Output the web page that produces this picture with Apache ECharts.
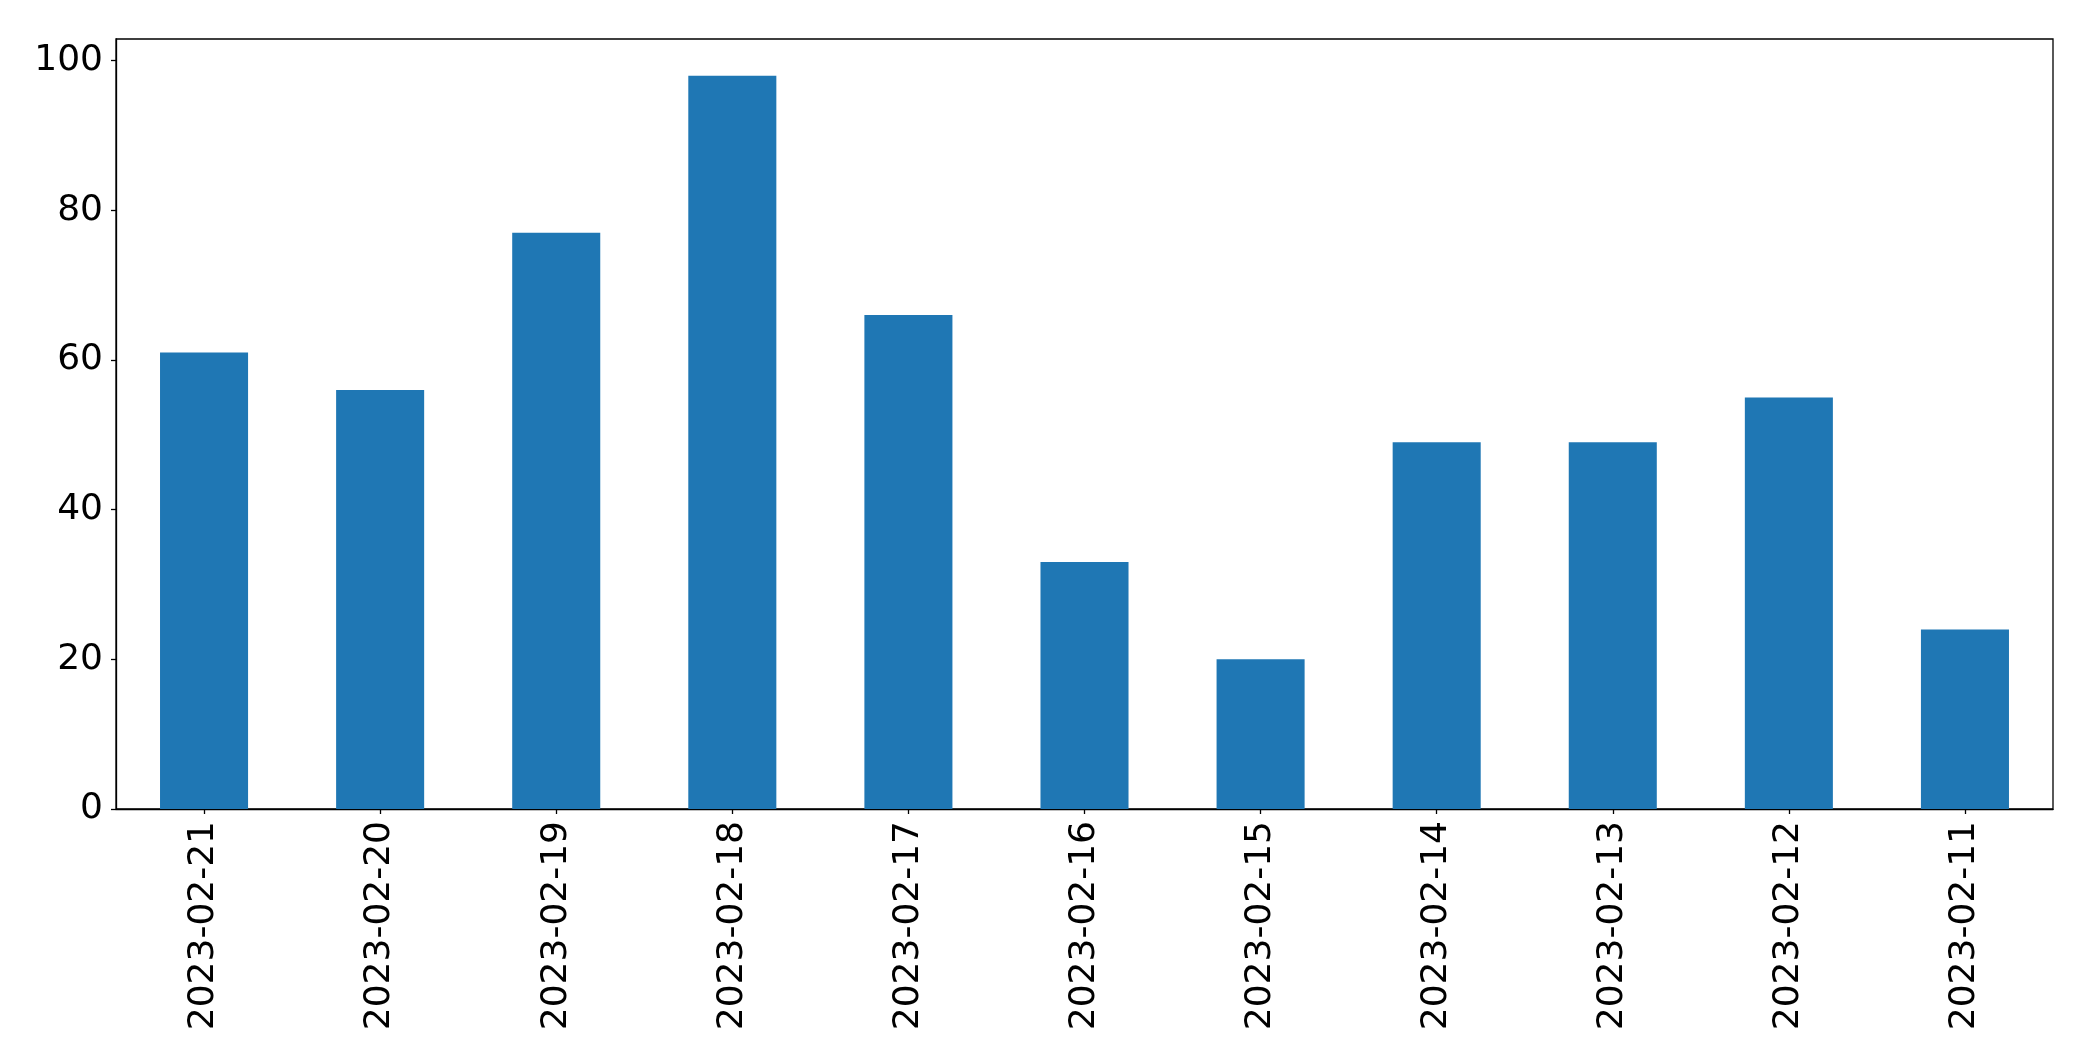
<!DOCTYPE html>
<html>
<head>
<meta charset="utf-8">
<script src="https://cdn.jsdelivr.net/npm/echarts@6/dist/echarts.min.js"></script>
<style>
  html, body { margin: 0; padding: 0; background: #fff; }
  #main { width: 2093px; height: 1061px; }
</style>
</head>
<body>
<div id="main"></div>
<script>
var dates = ['2023-02-21', '2023-02-20', '2023-02-19', '2023-02-18', '2023-02-17', '2023-02-16',
	'2023-02-15', '2023-02-14', '2023-02-13', '2023-02-12', '2023-02-11'];
var counts = [61, 56, 77, 98, 66, 33, 20, 49, 49, 55, 24];
var yTicks = [0, 20, 40, 60, 80, 100];

window.onload = function () {
	var fontFamily = 'DejaVu Sans';
	var options = {
		animation: false,
		backgroundColor: '#ffffff',
		grid: {
			left: 116,
			top: 39,
			right: 40,
			bottom: 252,
			show: true,
			borderColor: '#000000',
			borderWidth: 1.3,
			containLabel: false
		},
		xAxis: {
			type: 'category',
			data: dates,
			boundaryGap: true,
			axisLine: {show: true, lineStyle: {color: '#000000', width: 1.3}},
			axisTick: {show: true, alignWithLabel: true, length: 5, lineStyle: {color: '#000000', width: 1.3}},
			axisLabel: {
				rotate: 90,
				margin: 12,
				interval: 0,
				color: '#000000',
				fontFamily: fontFamily,
				fontSize: 36
			},
			splitLine: {show: false}
		},
		yAxis: {
			type: 'value',
			min: 0,
			max: 102.9,
			axisLine: {show: true, lineStyle: {color: '#000000', width: 1.3}},
			axisTick: {show: true, length: 5, customValues: yTicks, lineStyle: {color: '#000000', width: 1.3}},
			axisLabel: {
				customValues: yTicks,
				margin: 13,
				color: '#000000',
				fontFamily: fontFamily,
				fontSize: 36
			},
			splitLine: {show: false}
		},
		series: [
			{
				type: 'bar',
				data: counts,
				barWidth: '50%',
				itemStyle: {color: '#1f77b4'}
			}
		]
	};
	var myChart = echarts.init(document.getElementById('main'));
	myChart.setOption(options);
};
</script>
</body>
</html>
